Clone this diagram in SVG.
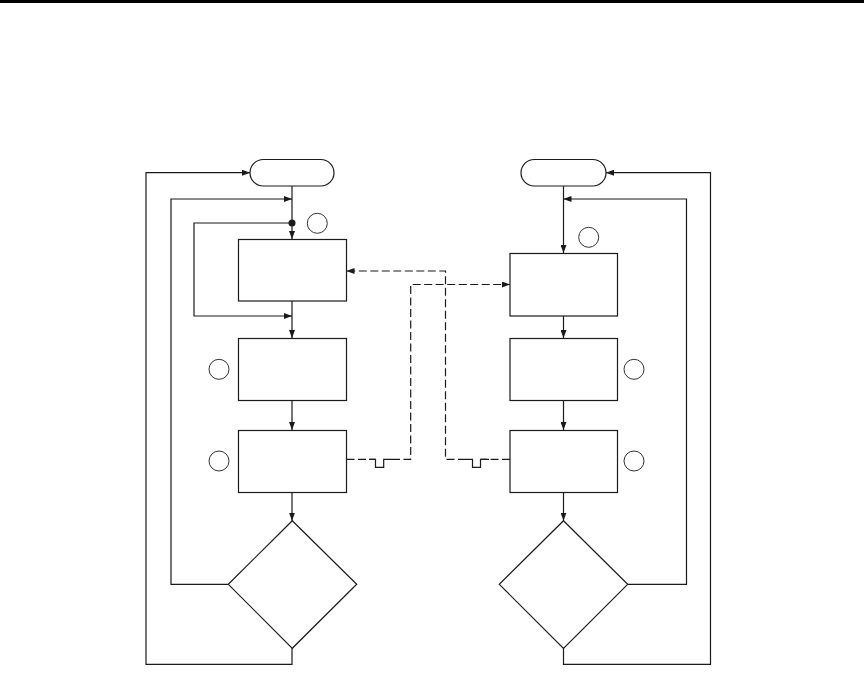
<svg xmlns="http://www.w3.org/2000/svg" width="864" height="677" viewBox="0 0 864 677">
<style>
.ln{fill:none;stroke:#1a1a1a;stroke-width:1.2}
.nd{fill:#fff;stroke:#1a1a1a;stroke-width:1.2}
.cr{fill:none;stroke:#333;stroke-width:1}
.ds{fill:none;stroke:#1a1a1a;stroke-width:1.2;stroke-dasharray:8,3.5}
</style>
<defs>
<marker id="ah" viewBox="0 0 8 6" refX="8" refY="3" markerWidth="8" markerHeight="6" markerUnits="userSpaceOnUse" orient="auto">
<path d="M0,0 L8,3 L0,6 Z" fill="#1a1a1a"/>
</marker>
</defs>
<rect x="0" y="0" width="864" height="3" fill="#000"/>
<g id="connectors">
<path class="ln" d="M292,186 V239" marker-end="url(#ah)"/>
<path class="ln" d="M292,301 V338" marker-end="url(#ah)"/>
<path class="ln" d="M292,400 V430" marker-end="url(#ah)"/>
<path class="ln" d="M292,492 V520.7" marker-end="url(#ah)"/>
<path class="ln" d="M292,648.3 V664.3 H146 V172.7 H250" marker-end="url(#ah)"/>
<path class="ln" d="M228.3,584.3 H171 V199 H292" marker-end="url(#ah)"/>
<path class="ln" d="M292,223 H194 V316 H292" marker-end="url(#ah)"/>
<circle cx="292" cy="223" r="3.5" fill="#1a1a1a"/>
<path class="ln" d="M563.5,186 V253" marker-end="url(#ah)"/>
<path class="ln" d="M563.5,316 V338" marker-end="url(#ah)"/>
<path class="ln" d="M563.5,400 V430" marker-end="url(#ah)"/>
<path class="ln" d="M563.5,492 V520.7" marker-end="url(#ah)"/>
<path class="ln" d="M563.5,648.3 V664.3 H710.5 V172.7 H606" marker-end="url(#ah)"/>
<path class="ln" d="M627.7,584.3 H686.5 V199 H563.5" marker-end="url(#ah)"/>
<path class="ds" d="M510,459.3 H481"/>
<path class="ln" d="M489,459.3 H480.5 V467.3 H472.5 V459.3 H466"/>
<path class="ds" d="M466,459.3 H445.5 V271 H346.5" marker-end="url(#ah)"/>
<path class="ds" d="M346.5,459.3 H375"/>
<path class="ln" d="M369,459.3 H375.5 V467.3 H383.7 V459.3 H392"/>
<path class="ds" d="M392,459.3 H410.7 V284.5 H510" marker-end="url(#ah)"/>
</g>
<g id="start-left"><rect class="nd" x="250" y="159.5" width="84" height="26.5" rx="13.25"/></g>
<g id="start-right"><rect class="nd" x="521" y="159.5" width="85" height="26.5" rx="13.25"/></g>
<g id="box-l1"><rect class="nd" x="238.5" y="239.5" width="108" height="61.5"/></g>
<g id="box-l2"><rect class="nd" x="238.5" y="338.5" width="108" height="62"/></g>
<g id="box-l3"><rect class="nd" x="238.5" y="430.5" width="108" height="62"/></g>
<g id="box-r1"><rect class="nd" x="510" y="253.5" width="107.5" height="62.5"/></g>
<g id="box-r2"><rect class="nd" x="510" y="338.5" width="107.5" height="62"/></g>
<g id="box-r3"><rect class="nd" x="510" y="430.5" width="107.5" height="62"/></g>
<g id="dec-left"><polygon class="nd" points="292.3,520.7 356.7,584.3 292.3,648.3 228.3,584.3"/></g>
<g id="dec-right"><polygon class="nd" points="563.5,520.7 627.7,584.3 563.5,648.3 499.3,584.3"/></g>
<g id="mark-l1"><circle class="cr" cx="317.3" cy="223.3" r="10"/></g>
<g id="mark-l2"><circle class="cr" cx="219" cy="369.3" r="10"/></g>
<g id="mark-l3"><circle class="cr" cx="219" cy="461" r="10"/></g>
<g id="mark-r1"><circle class="cr" cx="588.7" cy="237.3" r="10"/></g>
<g id="mark-r2"><circle class="cr" cx="634" cy="369.3" r="10"/></g>
<g id="mark-r3"><circle class="cr" cx="634" cy="461" r="10"/></g>
</svg>
